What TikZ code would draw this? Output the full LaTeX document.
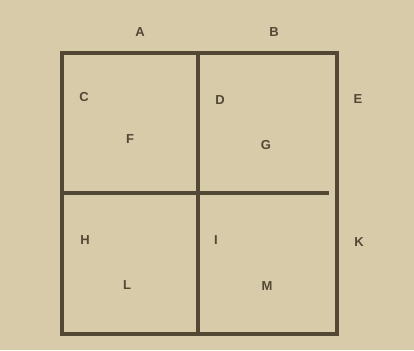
\documentclass[tikz,border=0pt]{standalone}
\usepackage{fontspec}
\setmainfont{Liberation Sans}
\definecolor{paper}{RGB}{216,203,170}
\definecolor{ink}{RGB}{82,72,52}
\begin{document}
\begin{tikzpicture}[x=1pt,y=-1pt,
  wall/.style={draw=ink,line width=3.2pt,line cap=rect},
  lbl/.style={text=ink,font=\fontsize{13}{13}\selectfont\bfseries,inner sep=0pt}]
\fill[paper] (0,0) rectangle (414,350);
\useasboundingbox (0,0) rectangle (414,350);
\coordinate (tl) at (62,53);
\coordinate (tr) at (337,53);
\coordinate (br) at (337,334);
\coordinate (bl) at (62,334);
\coordinate (vt) at (198,53);
\coordinate (vb) at (198,334);
\coordinate (hl) at (62,193);
\coordinate (hr) at (327,193);
\draw[wall] (tl) -- (tr) -- (br) -- (bl) -- cycle;
\draw[wall] (vt) -- (vb);
\draw[wall] (hl) -- (hr);
\node[lbl] (A) at (140,32) {A};
\node[lbl] (B) at (274,32) {B};
\node[lbl] (C) at (84,97) {C};
\node[lbl] (F) at (130,139) {F};
\node[lbl] (D) at (220,100) {D};
\node[lbl] (G) at (266,145) {G};
\node[lbl] (E) at (358,99) {E};
\node[lbl] (H) at (85,240) {H};
\node[lbl] (L) at (127,285) {L};
\node[lbl] (I) at (216,240) {I};
\node[lbl] (M) at (267,286) {M};
\node[lbl] (K) at (359,242) {K};
\end{tikzpicture}
\end{document}
